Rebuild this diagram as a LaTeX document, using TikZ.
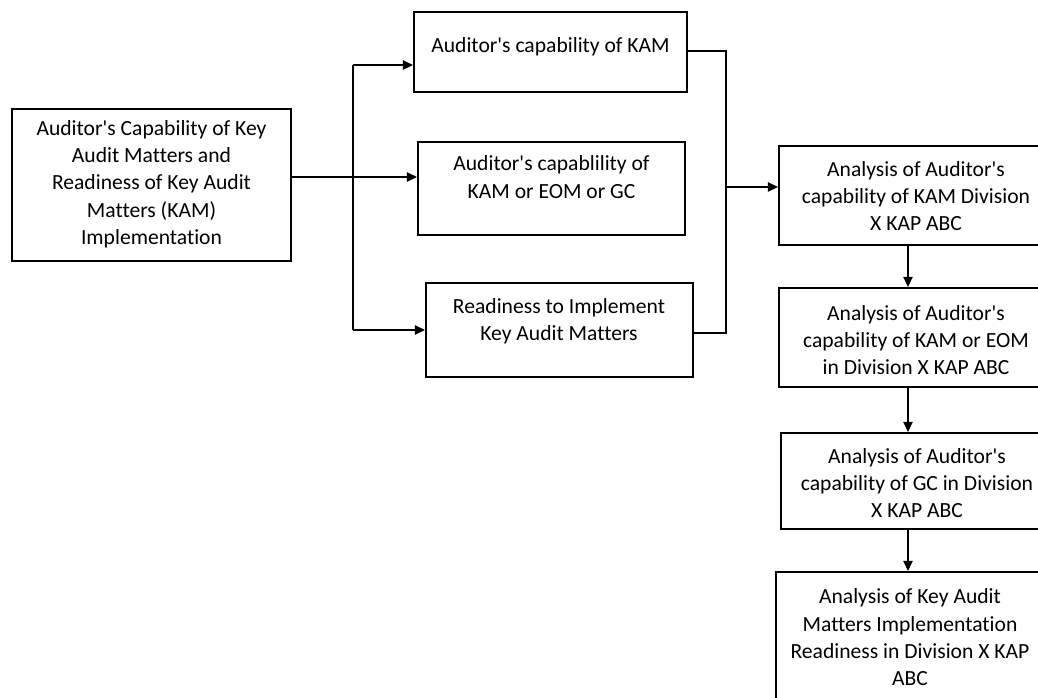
\documentclass[tikz,border=0pt]{standalone}
\usepackage{fontspec}
\setmainfont{Carlito}[Ligatures={TeXOff,CommonOff}]
\usetikzlibrary{arrows.meta}
\def\px{0.75pt}
\tikzset{
  box/.style={draw, line width=1.6pt, inner sep=0pt},
  txt/.style={align=center, inner sep=0pt, font=\fontsize{16.2pt}{20.5pt}\selectfont},
  conn/.style={line width=0.8pt},
  arr/.style={conn, -{Triangle[length=7.5pt,width=7pt]}}
}
\begin{document}
\begin{tikzpicture}[x=0.75pt,y=-0.75pt]
\useasboundingbox (0,0) rectangle (1038,697);
\clip (0,0) rectangle (1038,697);
\fill[white] (0,0) rectangle (1038,697);
% boxes
\node[box, minimum width=279*\px, minimum height=152*\px] (L) at (151.5,185) {};
\node[box, minimum width=273*\px, minimum height=80*\px] (T1) at (550.5,52) {};
\node[box, minimum width=267*\px, minimum height=93*\px] (T2) at (551.5,188.5) {};
\node[box, minimum width=267*\px, minimum height=94*\px] (T3) at (559.5,330) {};
\node[box, minimum width=274*\px, minimum height=99*\px] (R1) at (916,195.5) {};
\node[box, minimum width=274*\px, minimum height=99*\px] (R2) at (916,337.5) {};
\node[box, minimum width=272*\px, minimum height=96*\px] (R3) at (917,481) {};
\node[box, minimum width=277*\px, minimum height=168*\px] (R4) at (914.5,656) {};
% texts
\node[txt] (Lt) at (151.5,184) {Auditor's Capability of Key\\Audit Matters and\\Readiness of Key Audit\\Matters (KAM)\\Implementation};
\node[txt] (T1t) at (550.5,47) {Auditor's capability of KAM};
\node[txt] (T2t) at (551.5,177) {Auditor's capablility of\\KAM or EOM or GC};
\node[txt] (T3t) at (559,321) {Readiness to Implement\\Key Audit Matters};
\node[txt] (R1t) at (916,196) {Analysis of Auditor's\\capability of KAM Division\\X KAP ABC};
\node[txt] (R2t) at (916,340) {Analysis of Auditor's\\capability of KAM or EOM\\in Division X KAP ABC};
\node[txt] (R3t) at (917,483) {Analysis of Auditor's\\capability of GC in Division\\X KAP ABC};
\node[txt] (R4t) at (910,637.5) {Analysis of Key Audit\\Matters Implementation\\Readiness in Division X KAP\\ABC};
% left connectors
\coordinate (J) at (353,177);
\coordinate (Jt) at (353,65);
\coordinate (Jb) at (353,330);
\draw[line width=1.3pt] (L.east |- J) -- (J);
\draw[arr] (J) -- (T2.west |- J);
\draw[conn] (Jt) -- (Jb);
\draw[arr] (Jt) -- (T1.west |- Jt);
\draw[arr] (Jb) -- (T3.west |- Jb);
% right connectors
\coordinate (K1) at (726,51);
\coordinate (K2) at (726,333);
\coordinate (K) at (726,187);
\draw[conn] (T1.east |- K1) -- (K1) -- (K2) -- (T3.east |- K2);
\draw[arr] (K) -- (R1.west |- K);
% column
\coordinate (cx) at (908,0);
\draw[arr] (R1.south -| cx) -- (R2.north -| cx);
\draw[arr] (R2.south -| cx) -- (R3.north -| cx);
\draw[arr] (R3.south -| cx) -- (R4.north -| cx);
\end{tikzpicture}
\end{document}
